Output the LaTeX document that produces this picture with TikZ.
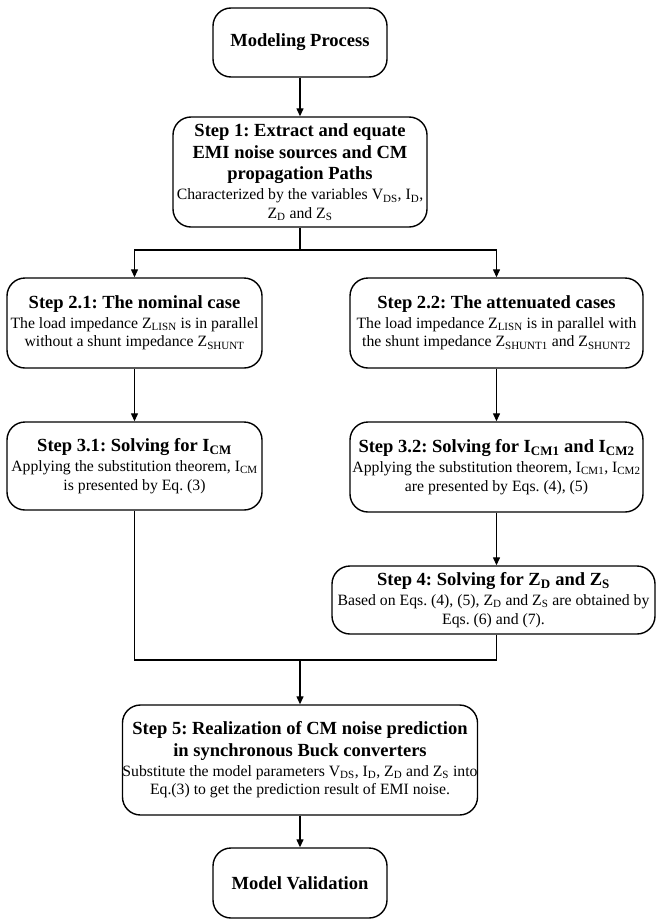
\documentclass[tikz,border=0pt]{standalone}
\usepackage{fontspec}
\setmainfont{Liberation Serif}
\usetikzlibrary{arrows.meta}
\frenchspacing
\newcommand\ttl[1]{{\fontsize{18.6}{22}\selectfont\bfseries #1}}
\newcommand\sbs[1]{\textsubscript{#1}}
\tikzset{
  box/.style={draw, line width=1.4bp, rounded corners=18bp, align=center,
    inner sep=0pt, font=\fontsize{15.8}{18.5}\selectfont\frenchspacing},
  conn/.style={line width=1.3bp},
  arr/.style={conn, -{Triangle[length=8bp,width=7bp]}}
}
\begin{document}
\begin{tikzpicture}[x=1bp,y=-1bp]
\useasboundingbox (0,0) rectangle (657,923);
\node[box, minimum width=174bp, minimum height=69bp] (mp) at (300,42.5) {\ttl{Modeling Process}};
\node[box, minimum width=254bp, minimum height=110bp] (s1) at (300,172)
 {\ttl{Step 1: Extract and equate}\\[3.5bp]\ttl{EMI noise sources and CM}\\[3.5bp]\ttl{propagation Paths}\\[1.5bp]
  Characterized by the variables V\sbs{DS}, I\sbs{D},\\ Z\sbs{D} and Z\sbs{S}};
\node[box, minimum width=255bp, minimum height=90bp] (s21) at (134.5,323)
 {\ttl{Step 2.1: The nominal case}\\[1.5bp]
  The load impedance Z\sbs{LISN} is in parallel\\ without a shunt impedance Z\sbs{SHUNT}};
\node[box, minimum width=293bp, minimum height=90bp] (s22) at (496.5,323)
 {\ttl{Step 2.2: The attenuated cases}\\[1.5bp]
  The load impedance Z\sbs{LISN} is in parallel with\\ the shunt impedance Z\sbs{SHUNT1} and Z\sbs{SHUNT2}};
\node[box, minimum width=255bp, minimum height=88bp] (s31) at (134.5,466)
 {\ttl{Step 3.1: Solving for I\sbs{CM}}\\[1.5bp]
  Applying the substitution theorem, I\sbs{CM}\\ is presented by Eq. (3)};
\node[box, minimum width=293bp, minimum height=90bp] (s32) at (496.5,467)
 {\ttl{Step 3.2: Solving for I\sbs{CM1} and I\sbs{CM2}}\\[1.5bp]
  Applying the substitution theorem, I\sbs{CM1}, I\sbs{CM2}\\ are presented by Eqs. (4), (5)};
\node[box, minimum width=323bp, minimum height=68bp] (s4) at (493.5,600)
 {\ttl{Step 4: Solving for Z\sbs{D} and Z\sbs{S}}\\[1.5bp]
  Based on Eqs. (4), (5), Z\sbs{D} and Z\sbs{S} are obtained by\\ Eqs. (6) and (7).};
\node[box, minimum width=354bp, minimum height=110bp] (s5) at (300,760)
 {\ttl{Step 5: Realization of CM noise prediction}\\[3.5bp]\ttl{in synchronous Buck converters}\\[1.5bp]
  Substitute the model parameters V\sbs{DS}, I\sbs{D}, Z\sbs{D} and Z\sbs{S} into\\ Eq.(3) to get the prediction result of EMI noise.};
\node[box, minimum width=174bp, minimum height=70bp] (mv) at (300,883) {\ttl{Model Validation}};
\coordinate (j1) at (300,250);
\coordinate (j2) at (300,660);
\draw[arr] (mp) -- (s1);
\draw[conn] (s1) -- (j1);
\draw[arr] (j1) -| (s21);
\draw[arr] (j1) -| (s22);
\draw[arr] (s21) -- (s31);
\draw[arr] (s22) -- (s32);
\draw[arr] (s32) -- (s4.north -| s32.south);
\draw[conn] (s31) |- (j2);
\draw[conn] (s4.south -| s32.south) |- (j2);
\draw[arr] (j2) -- (s5);
\draw[arr] (s5) -- (mv);
\end{tikzpicture}
\end{document}
